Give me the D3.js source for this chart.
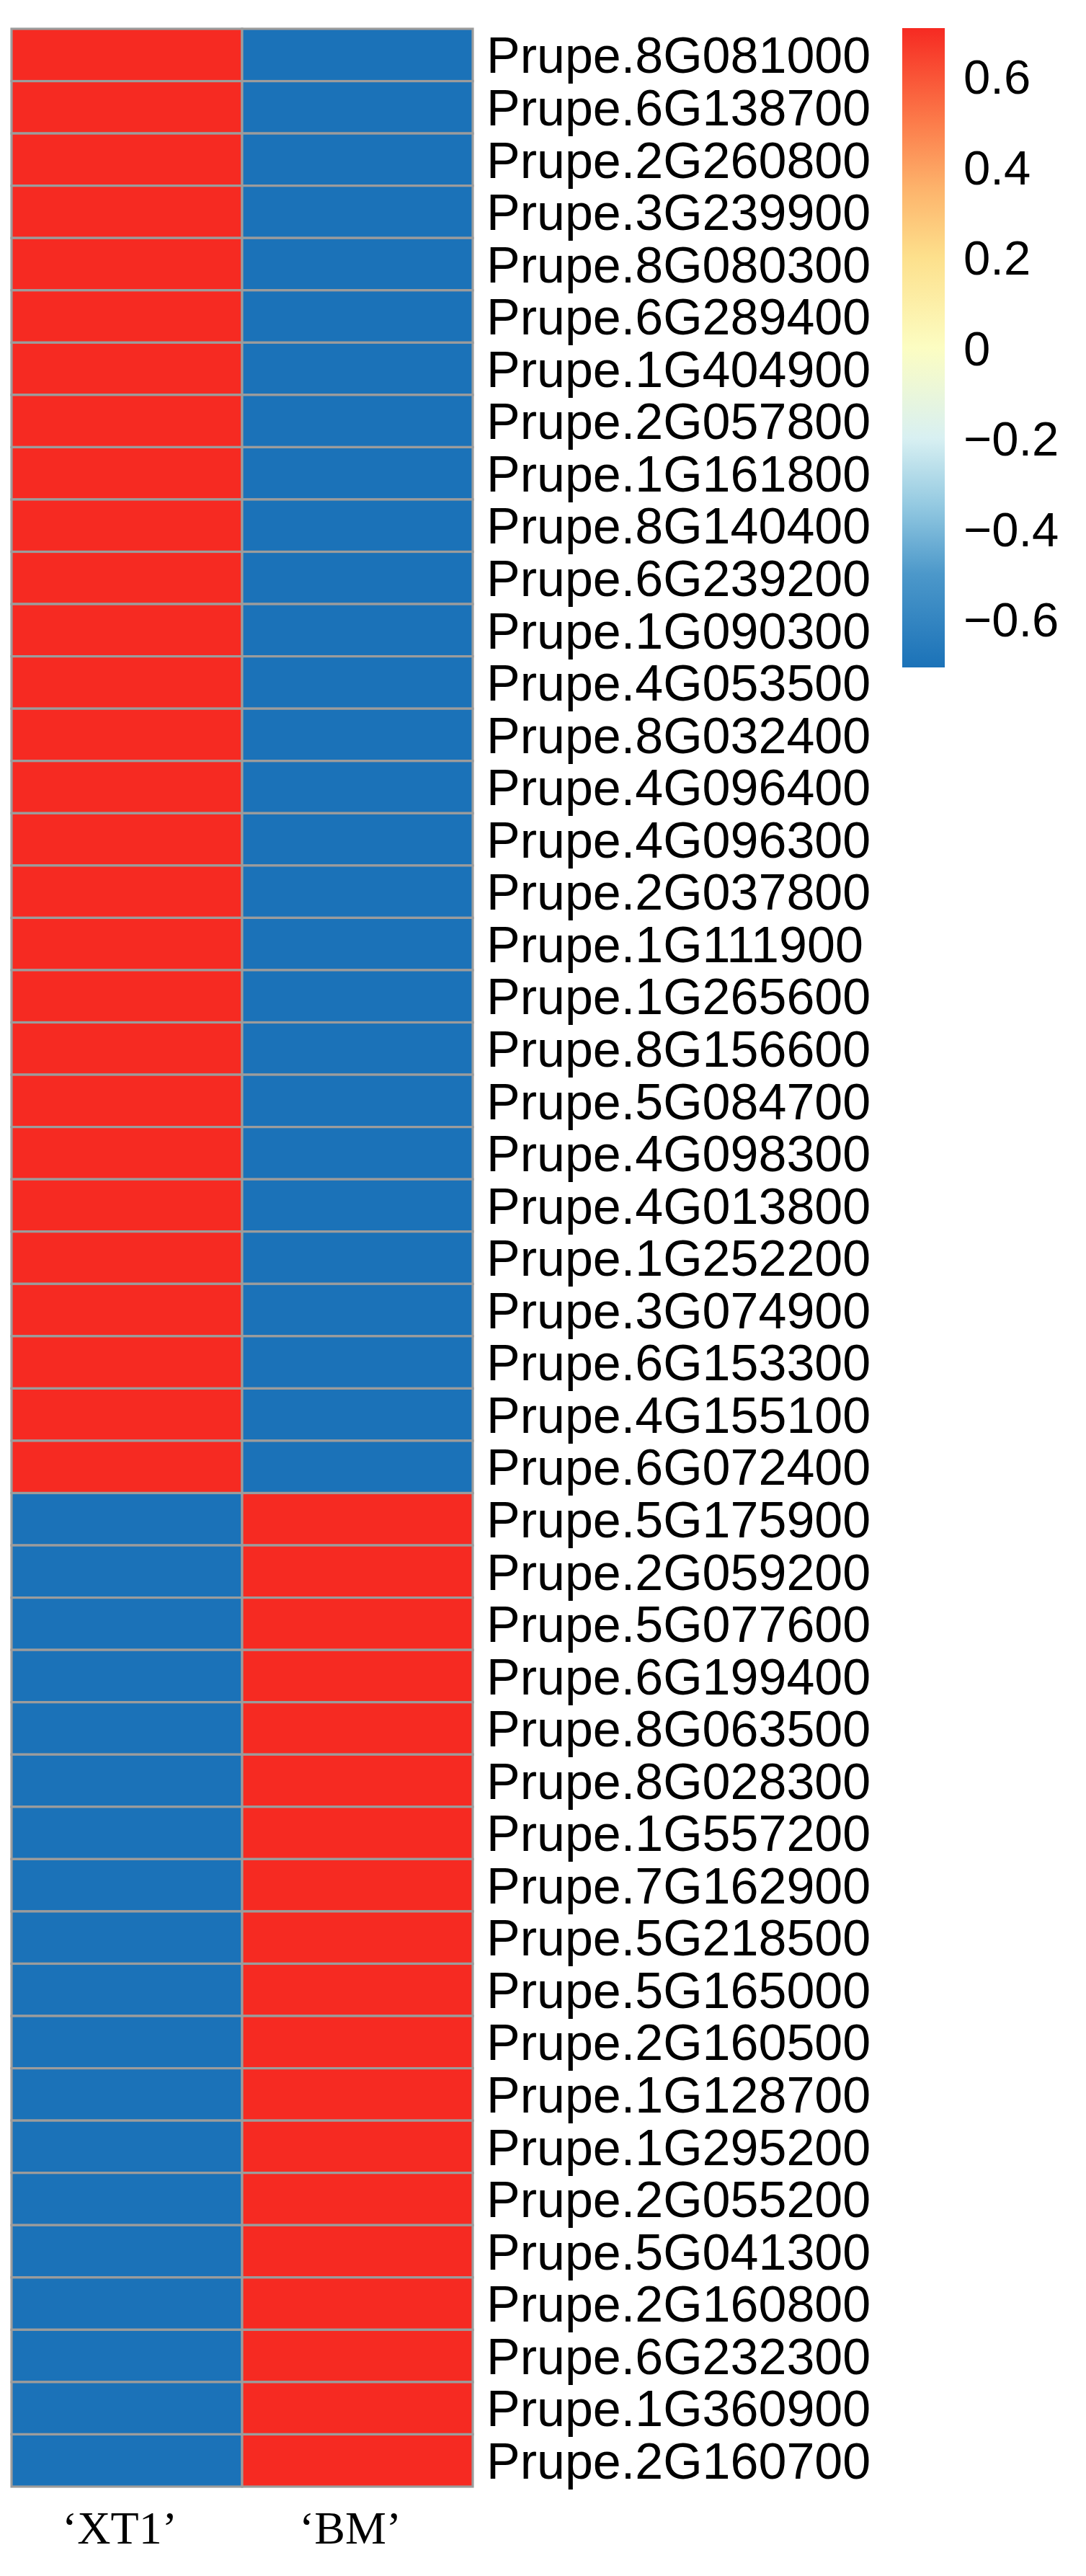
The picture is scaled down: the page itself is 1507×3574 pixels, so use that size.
<!DOCTYPE html>
<html>
<head>
<meta charset="utf-8">
<script src="https://cdn.jsdelivr.net/npm/d3@7/dist/d3.min.js"></script>
<style>
  html, body { margin: 0; padding: 0; background: #fff; }
  svg { display: block; }
</style>
</head>
<body>
<svg id="chart" width="1507" height="3574"></svg>
<script>
const genes = [
  "Prupe.8G081000","Prupe.6G138700","Prupe.2G260800","Prupe.3G239900","Prupe.8G080300",
  "Prupe.6G289400","Prupe.1G404900","Prupe.2G057800","Prupe.1G161800","Prupe.8G140400",
  "Prupe.6G239200","Prupe.1G090300","Prupe.4G053500","Prupe.8G032400","Prupe.4G096400",
  "Prupe.4G096300","Prupe.2G037800","Prupe.1G111900","Prupe.1G265600","Prupe.8G156600",
  "Prupe.5G084700","Prupe.4G098300","Prupe.4G013800","Prupe.1G252200","Prupe.3G074900",
  "Prupe.6G153300","Prupe.4G155100","Prupe.6G072400","Prupe.5G175900","Prupe.2G059200",
  "Prupe.5G077600","Prupe.6G199400","Prupe.8G063500","Prupe.8G028300","Prupe.1G557200",
  "Prupe.7G162900","Prupe.5G218500","Prupe.5G165000","Prupe.2G160500","Prupe.1G128700",
  "Prupe.1G295200","Prupe.2G055200","Prupe.5G041300","Prupe.2G160800","Prupe.6G232300",
  "Prupe.1G360900","Prupe.2G160700"
];
const samples = ["\u2018XT1\u2019", "\u2018BM\u2019"];
const xt1Values = [
  0.707,0.707,0.707,0.707,0.707,0.707,0.707,0.707,0.707,0.707,
  0.707,0.707,0.707,0.707,0.707,0.707,0.707,0.707,0.707,0.707,
  0.707,0.707,0.707,0.707,0.707,0.707,0.707,0.707,
  -0.707,-0.707,-0.707,-0.707,-0.707,-0.707,-0.707,-0.707,-0.707,-0.707,
  -0.707,-0.707,-0.707,-0.707,-0.707,-0.707,-0.707,-0.707,-0.707
];
const bmValues = [
  -0.707,-0.707,-0.707,-0.707,-0.707,-0.707,-0.707,-0.707,-0.707,-0.707,
  -0.707,-0.707,-0.707,-0.707,-0.707,-0.707,-0.707,-0.707,-0.707,-0.707,
  -0.707,-0.707,-0.707,-0.707,-0.707,-0.707,-0.707,-0.707,
  0.707,0.707,0.707,0.707,0.707,0.707,0.707,0.707,0.707,0.707,
  0.707,0.707,0.707,0.707,0.707,0.707,0.707,0.707,0.707
];
const legendTicks = [0.6, 0.4, 0.2, 0, -0.2, -0.4, -0.6];
const colorStops = [-0.7071, -0.5, -0.35, -0.2, 0, 0.2, 0.35, 0.5, 0.7071];
const colorValues = ["#1B72B8", "#4C98CA", "#93C9E1", "#D8F0F2", "#FCFDC2", "#FDE08C", "#FDB46C", "#FC7B4A", "#F62A22"];

const svg = d3.select("#chart");
const color = d3.scaleLinear().domain(colorStops).range(colorValues).clamp(true);

const x = d3.scaleBand().domain(samples).range([16, 656]);
const y = d3.scaleBand().domain(genes).range([40, 3450]);

const cells = [];
genes.forEach((g, i) => {
  cells.push({ gene: g, sample: samples[0], v: xt1Values[i] });
  cells.push({ gene: g, sample: samples[1], v: bmValues[i] });
});

svg.append("g").selectAll("rect").data(cells).join("rect")
  .attr("x", d => x(d.sample))
  .attr("y", d => y(d.gene))
  .attr("width", x.bandwidth())
  .attr("height", y.bandwidth())
  .attr("fill", d => color(d.v))
  .attr("stroke", "#9C9C9C")
  .attr("stroke-width", 3.2);

// row labels
svg.append("g").selectAll("text").data(genes).join("text")
  .attr("x", 675)
  .attr("y", d => y(d) + y.bandwidth() / 2)
  .attr("dy", "0.36em")
  .attr("font-family", "'Liberation Sans', Arial, sans-serif")
  .attr("font-size", 70)
  .attr("fill", "#000")
  .text(d => d);

// column labels
svg.append("g").selectAll("text").data(samples).join("text")
  .attr("x", d => x(d) + x.bandwidth() / 2 - 10)
  .attr("y", 3529)
  .attr("text-anchor", "middle")
  .attr("font-family", "'Liberation Serif', 'Times New Roman', serif")
  .attr("font-size", 64)
  .attr("fill", "#000")
  .text(d => d);

// color legend
const ly = d3.scaleLinear().domain([-0.7071, 0.7071]).range([926, 39]);
const defs = svg.append("defs");
const grad = defs.append("linearGradient").attr("id", "lg")
  .attr("x1", 0).attr("y1", 1).attr("x2", 0).attr("y2", 0);
grad.selectAll("stop").data(colorStops).join("stop")
  .attr("offset", d => (d + 0.7071) / 1.4142)
  .attr("stop-color", d => color(d));

svg.append("rect")
  .attr("x", 1252).attr("y", ly(0.7071))
  .attr("width", 59).attr("height", ly(-0.7071) - ly(0.7071))
  .attr("fill", "url(#lg)");

const fmt = v => v === 0 ? "0" : d3.format(".1f")(v);
svg.append("g").selectAll("text").data(legendTicks).join("text")
  .attr("x", 1337)
  .attr("y", d => ly(d))
  .attr("dy", "0.36em")
  .attr("font-family", "'Liberation Sans', Arial, sans-serif")
  .attr("font-size", 67)
  .attr("fill", "#000")
  .text(fmt);
</script>
</body>
</html>
